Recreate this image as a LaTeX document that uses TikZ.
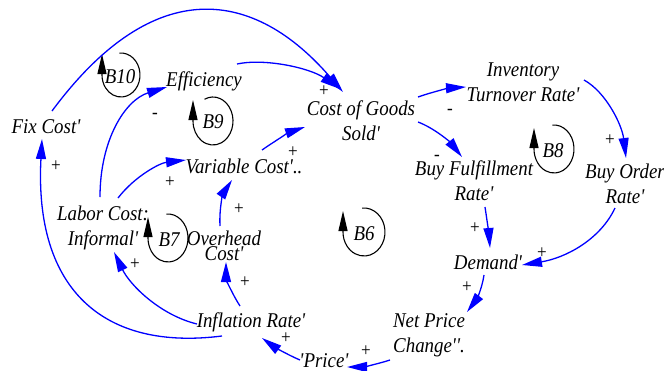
\documentclass[tikz,border=0pt]{standalone}
\usepackage{fontspec}
\defaultfontfeatures{}
\newfontfamily\cldfont{Liberation Serif}[FakeStretch=0.9]
\usetikzlibrary{arrows.meta,calc}
\tikzset{
  lbl/.style={font=\cldfont\itshape\fontsize{21}{25}\selectfont, align=center, inner sep=0pt},
  sgn/.style={font=\cldfont\fontsize{19}{19}\selectfont, inner sep=0pt},
  link/.style={draw=blue, line width=1.3pt, -{Triangle[length=20pt,width=10pt]}},
  loopline/.style={draw=black, line width=1.1pt, -{Triangle[length=20pt,width=9pt]}}
}
\begin{document}
\begin{tikzpicture}[x=1pt,y=-1pt]
\path[use as bounding box, fill=white] (0,0) rectangle (664,370);

% variables
\node[lbl] (fix) at (46,127) {Fix Cost'};
\node[lbl] (eff) at (204,81) {Efficiency};
\node[lbl] (cogs) at (361,121) {Cost of Goods\\Sold'};
\node[lbl] (var) at (244,166) {Variable Cost'..};
\node[lbl] (labor) at (103,228) {Labor Cost:\\Informal'};
\node[lbl, font=\cldfont\itshape\fontsize{21}{15}\selectfont] (over) at (224,246) {Overhead\\Cost'};
\node[lbl] (infl) at (251,322) {Inflation Rate'};
\node[lbl] (price) at (324,361) {'Price'};
\node[lbl] (net) at (429,335) {Net Price\\Change''.};
\node[lbl] (dem) at (488,262) {Demand'};
\node[lbl] (buyf) at (474,181) {Buy Fulfillment\\Rate'};
\node[lbl] (buyo) at (625,184) {Buy Order\\Rate'};
\node[lbl] (inv) at (523,82) {Inventory\\Turnover Rate'};

% loops
\node[lbl] (b10) at (120,77) {B10};
\node[lbl] (b9) at (213,122) {B9};
\node[lbl] (b7) at (169,240) {B7};
\node[lbl] (b6) at (364,234) {B6};
\node[lbl] (b8) at (553,151) {B8};
\draw[loopline] ($(b10)+(1,-2)+(-95:19 and 22)$) arc[start angle=-95, end angle=180, x radius=19, y radius=22] -- ++(0,-21);
\draw[loopline] ($(b9)+(0,-1)+(-115:20 and 24)$) arc[start angle=-115, end angle=180, x radius=20, y radius=24] -- ++(0,-21);
\draw[loopline] ($(b7)+(-1,-2)+(-95:20 and 24)$) arc[start angle=-95, end angle=180, x radius=20, y radius=24] -- ++(0,-21);
\draw[loopline] ($(b6)+(0,-2)+(-95:21 and 24)$) arc[start angle=-95, end angle=180, x radius=21, y radius=24] -- ++(0,-21);
\draw[loopline] ($(b8)+(1,-2)+(-95:20 and 24)$) arc[start angle=-95, end angle=180, x radius=20, y radius=24] -- ++(0,-21);

% links
\draw[link] ($(fix)+(6,-16)$) .. controls (155,-28) and (255,-10) .. ($(cogs)+(-18,-29)$);
\draw[link] ($(eff)+(33,-17)$) .. controls (265,58) and (310,68) .. ($(cogs)+(-21,-32)$);
\draw[link] ($(labor)+(-3,-31)$) .. controls (100,140) and (125,100) .. ($(eff)+(-37,6)$);
\draw[link] ($(labor)+(15,-30)$) .. controls (135,176) and (160,163) .. ($(var)+(-58,-6)$);
\draw[link] ($(var)+(18,-16)$) .. controls (275,141) and (290,132) .. ($(cogs)+(-56,6)$);
\draw[link] ($(over)+(-4,-20)$) .. controls (219,206) and (224,192) .. ($(var)+(-12,14)$);
\draw[link] ($(infl)+(-11,-16)$) .. controls (231,292) and (226,278) .. ($(over)+(2,16)$);
\draw[link] ($(infl)+(-54,2)$) .. controls (160,315) and (130,285) .. ($(labor)+(11,24)$);
\draw[link] ($(infl)+(-29,14)$) .. controls (104,351) and (34,290) .. ($(fix)+(-4,12)$);
\draw[link] ($(price)+(-24,-1)$) .. controls (288,355) and (273,346) .. ($(infl)+(11,16)$);
\draw[link] ($(net)+(-39,25)$) .. controls (378,364) and (362,367) .. ($(price)+(23,6)$);
\draw[link] ($(dem)+(-4,13)$) .. controls (482,289) and (476,300) .. ($(net)+(38,-23)$);
\draw[link] ($(buyf)+(11,26)$) .. controls (487,220) and (489,235) .. ($(dem)+(2,-14)$);
\draw[link] ($(buyo)+(-10,24)$) .. controls (600,240) and (565,258) .. ($(dem)+(34,3)$);
\draw[link] ($(inv)+(61,-2)$) .. controls (606,92) and (622,125) .. ($(buyo)+(1,-26)$);
\draw[link] ($(cogs)+(57,-24)$) .. controls (432,92) and (450,88) .. ($(inv)+(-57,5)$);
\draw[link] ($(cogs)+(57,1)$) .. controls (434,128) and (450,142) .. ($(buyf)+(-12,-24)$);

% polarities
\node[sgn] (s1) at (324,91) {+};
\node[sgn] (s2) at (155,116) {-};
\node[sgn] (s3) at (293,152) {+};
\node[sgn] (s4) at (170,182) {+};
\node[sgn] (s5) at (239,209) {+};
\node[sgn] (s6) at (245,282) {+};
\node[sgn] (s7) at (135,264) {+};
\node[sgn] (s8) at (56,166) {+};
\node[sgn] (s9) at (286,338) {+};
\node[sgn] (s10) at (366,351) {+};
\node[sgn] (s11) at (467,287) {+};
\node[sgn] (s12) at (475,228) {+};
\node[sgn] (s13) at (542,253) {+};
\node[sgn] (s14) at (610,140) {+};
\node[sgn] (s15) at (450,112) {-};
\node[sgn] (s16) at (437,158) {-};
\end{tikzpicture}
\end{document}
